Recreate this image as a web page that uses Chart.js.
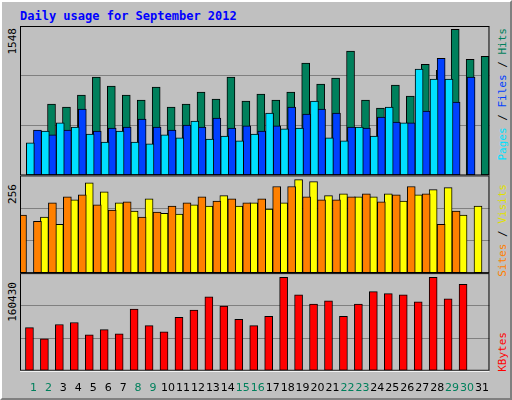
<!DOCTYPE html>
<html>
<head>
<meta charset="utf-8">
<script src="https://cdn.jsdelivr.net/npm/chart.js@4"></script>
<style>
  body { margin: 0; background: #c0c0c0; }
  #frame { position: relative; width: 508px; height: 396px; background: #c0c0c0;
    border-top: 2px solid #ffffff; border-left: 2px solid #ffffff;
    border-right: 2px solid #808080; border-bottom: 2px solid #808080; }
  #title { position: absolute; left: 18px; top: 7px; font: bold 12px "DejaVu Sans Mono", monospace; color: #0000ff; }
  .vlab { position: absolute; writing-mode: vertical-rl; transform: rotate(180deg);
    font: 11px "DejaVu Sans Mono", monospace; white-space: nowrap; }
  #cv { position: absolute; left: 18px; top: 24px; }
</style>
</head>
<body>
<div id="frame">
  <div id="title">Daily usage for September 2012</div>
  <canvas id="cv" width="472" height="372"></canvas>
  <div class="vlab" style="left:4px; top:26px; color:#000">1548</div>
  <div class="vlab" style="left:4px; top:182px; color:#000">256</div>
  <div class="vlab" style="left:4px; top:280px; color:#000">160430</div>
  <div class="vlab" style="left:494px; top:26px;"><span style="color:#00e0ff">Pages</span> / <span style="color:#0040ff">Files</span> / <span style="color:#00805c">Hits</span></div>
  <div class="vlab" style="left:494px; top:182px;"><span style="color:#ff8000">Sites</span> / <span style="color:#e0e000">Visits</span></div>
  <div class="vlab" style="left:494px; top:330px; color:#ff0000">KBytes</div>
</div>
<script>
const days = [];
for (let d = 1; d <= 31; d++) days.push(d);
const weekend = [1, 2, 8, 9, 15, 16, 22, 23, 29, 30];

const hits   = [740,709,832,1018,925,832,781,915,709,740,864,791,1018,771,843,781,864,1163,946,1008,1287,781,698,936,822,1152,1090,1514,1204,1235];
const files  = [471,420,471,688,461,492,502,585,502,471,523,502,595,492,513,461,513,709,636,688,647,502,492,605,554,544,667,1214,760,1018];
const pages  = [327,337,461,544,502,430,347,461,347,327,420,389,564,378,409,358,430,647,482,492,771,389,358,502,409,709,544,1101,998,998];
const visits = [147,128,192,237,213,184,163,195,157,155,179,176,203,176,184,168,184,245,240,203,208,200,200,208,189,205,219,224,152,176];
const sites  = [152,136,184,200,205,179,165,187,147,160,176,184,200,189,195,184,195,227,227,200,192,192,200,208,187,205,227,208,128,163];
const kbytes = [70900,52400,76000,79400,59100,67600,60800,101300,74300,64200,87800,99700,121600,106400,84500,74300,89500,153700,125000,109800,114800,89500,109800,130100,126700,125000,113200,153700,118200,141900];

const maxHits = 1548, maxVisits = 256, maxKB = 160430;

function pts(arr, off) { return arr.map((v, i) => ({ x: i + 1 + off, y: v })); }
function ds(label, arr, off, color, axis, order) {
  return { label, data: pts(arr, off), backgroundColor: color, borderColor: '#000', borderWidth: 1,
    borderSkipped: false, barThickness: 8, yAxisID: axis, order };
}
function yAxis(max, weight) {
  return {
    type: 'linear', min: 0, max, stack: 'panels', stackWeight: weight, offset: false,
    afterBuildTicks: ax => { ax.ticks = [0, max / 3, 2 * max / 3, max].map(v => ({ value: v })); },
    ticks: { display: false },
    grid: { color: '#808080', drawTicks: false, lineWidth: 1 },
    border: { display: false }
  };
}

const frames = {
  id: 'frames',
  afterDraw(chart) {
    const c = chart.ctx, a = chart.chartArea;
    c.save();
    ['yh', 'yv', 'yk'].forEach(id => {
      const s = chart.scales[id];
      c.strokeStyle = '#000'; c.lineWidth = 1;
      c.strokeRect(a.left + 0.5, s.top + 0.5, a.right - a.left - 1, s.bottom - s.top - 1);
      c.strokeStyle = '#fff';
      c.beginPath(); c.moveTo(a.left, s.bottom + 0.5); c.lineTo(a.right, s.bottom + 0.5); c.stroke();
    });
    c.restore();
  }
};

new Chart(document.getElementById('cv'), {
  type: 'bar',
  data: {
    datasets: [
      ds('Hits', hits, -0.13, '#00805c', 'yh', 3),
      ds('Files', files, 0, '#0040ff', 'yh', 2),
      ds('Pages', pages, 0.13, '#00e0ff', 'yh', 1),
      ds('Visits', visits, -0.07, '#ffff00', 'yv', 2),
      ds('Sites', sites, 0.07, '#ff8000', 'yv', 1),
      ds('KBytes', kbytes, 0, '#ff0000', 'yk', 1)
    ]
  },
  options: {
    responsive: false, animation: false,
    layout: { padding: 0 },
    plugins: { legend: { display: false }, tooltip: { enabled: false } },
    scales: {
      x: {
        type: 'linear', min: 0.1, max: 31.5, offset: false,
        afterBuildTicks: ax => { ax.ticks = days.map(d => ({ value: d })); },
        ticks: { autoSkip: false, maxRotation: 0, padding: 3,
          font: { family: 'DejaVu Sans', size: 11 },
          color: c => weekend.includes(c.tick.value) ? '#00805c' : '#000' },
        grid: { display: false }, border: { display: false }
      },
      yk: yAxis(maxKB, 98),
      yv: yAxis(maxVisits, 98),
      yh: yAxis(maxHits, 150)
    }
  },
  plugins: [frames]
});
</script>
</body>
</html>
